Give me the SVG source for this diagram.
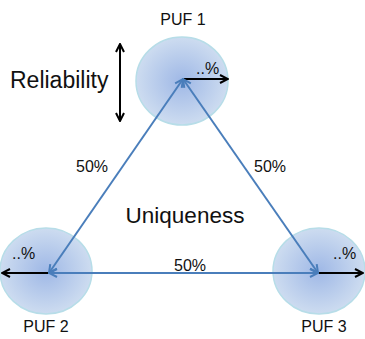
<svg xmlns="http://www.w3.org/2000/svg" width="365" height="339" viewBox="0 0 365 339">
<style>
text{font-family:"Liberation Sans",Arial,sans-serif;fill:#111}
.puf{fill:url(#g);stroke:#b7dde8;stroke-width:1.5}
.edge{stroke:#4a7ebb;stroke-width:2;fill:none;marker-start:url(#ba);marker-end:url(#ba)}
.pct{stroke:#000;stroke-width:2;fill:none;marker-end:url(#ka)}
.lbl{font-size:16px;text-anchor:middle}
.p{font-size:16px}
.f{font-size:16px;text-anchor:middle}
</style>
<defs>
<radialGradient id="g" cx="50%" cy="50%" r="50%">
<stop offset="0" stop-color="#9fb8e6"/>
<stop offset="1" stop-color="#cddcf0"/>
</radialGradient>
<marker id="ba" viewBox="0 0 10 10" refX="9" refY="5" markerWidth="5" markerHeight="5" orient="auto-start-reverse" markerUnits="strokeWidth">
<path d="M1,1 L9,5 L1,9" fill="none" stroke="#4a7ebb" stroke-width="2"/>
</marker>
<marker id="ka" viewBox="0 0 10 10" refX="9" refY="5" markerWidth="5" markerHeight="5" orient="auto-start-reverse" markerUnits="strokeWidth">
<path d="M1,1 L9,5 L1,9" fill="none" stroke="#000" stroke-width="2"/>
</marker>
</defs>
<g id="puf1">
<ellipse class="puf" cx="182" cy="81" rx="46" ry="44"/>
<text class="lbl" x="183" y="25">PUF 1</text>
<line class="pct" x1="183" y1="79" x2="228" y2="79"/>
<text class="p" x="196" y="74">..%</text>
</g>
<g id="puf2">
<ellipse class="puf" cx="46" cy="271" rx="46" ry="43"/>
<text class="lbl" x="46" y="332">PUF 2</text>
<line class="pct" x1="49" y1="273" x2="2" y2="273"/>
<text class="p" x="12" y="259">..%</text>
</g>
<g id="puf3">
<ellipse class="puf" cx="319" cy="271" rx="46" ry="43"/>
<text class="lbl" x="324" y="332">PUF 3</text>
<line class="pct" x1="318" y1="273" x2="363" y2="273"/>
<text class="p" x="333" y="259">..%</text>
</g>
<g id="reliability">
<text x="10" y="88" font-size="23">Reliability</text>
<line class="pct" x1="120" y1="44" x2="120" y2="121" marker-start="url(#ka)"/>
</g>
<g id="connectors">
<line class="edge" x1="183" y1="79" x2="49" y2="273"/>
<line class="edge" x1="183" y1="79" x2="318" y2="273"/>
<line class="edge" x1="49" y1="273" x2="318" y2="273"/>
</g>
<g id="labels">
<text x="185" y="223" font-size="22.5" text-anchor="middle">Uniqueness</text>
<text class="f" x="92" y="172">50%</text>
<text class="f" x="270" y="172">50%</text>
<text class="f" x="190" y="271">50%</text>
</g>
</svg>
